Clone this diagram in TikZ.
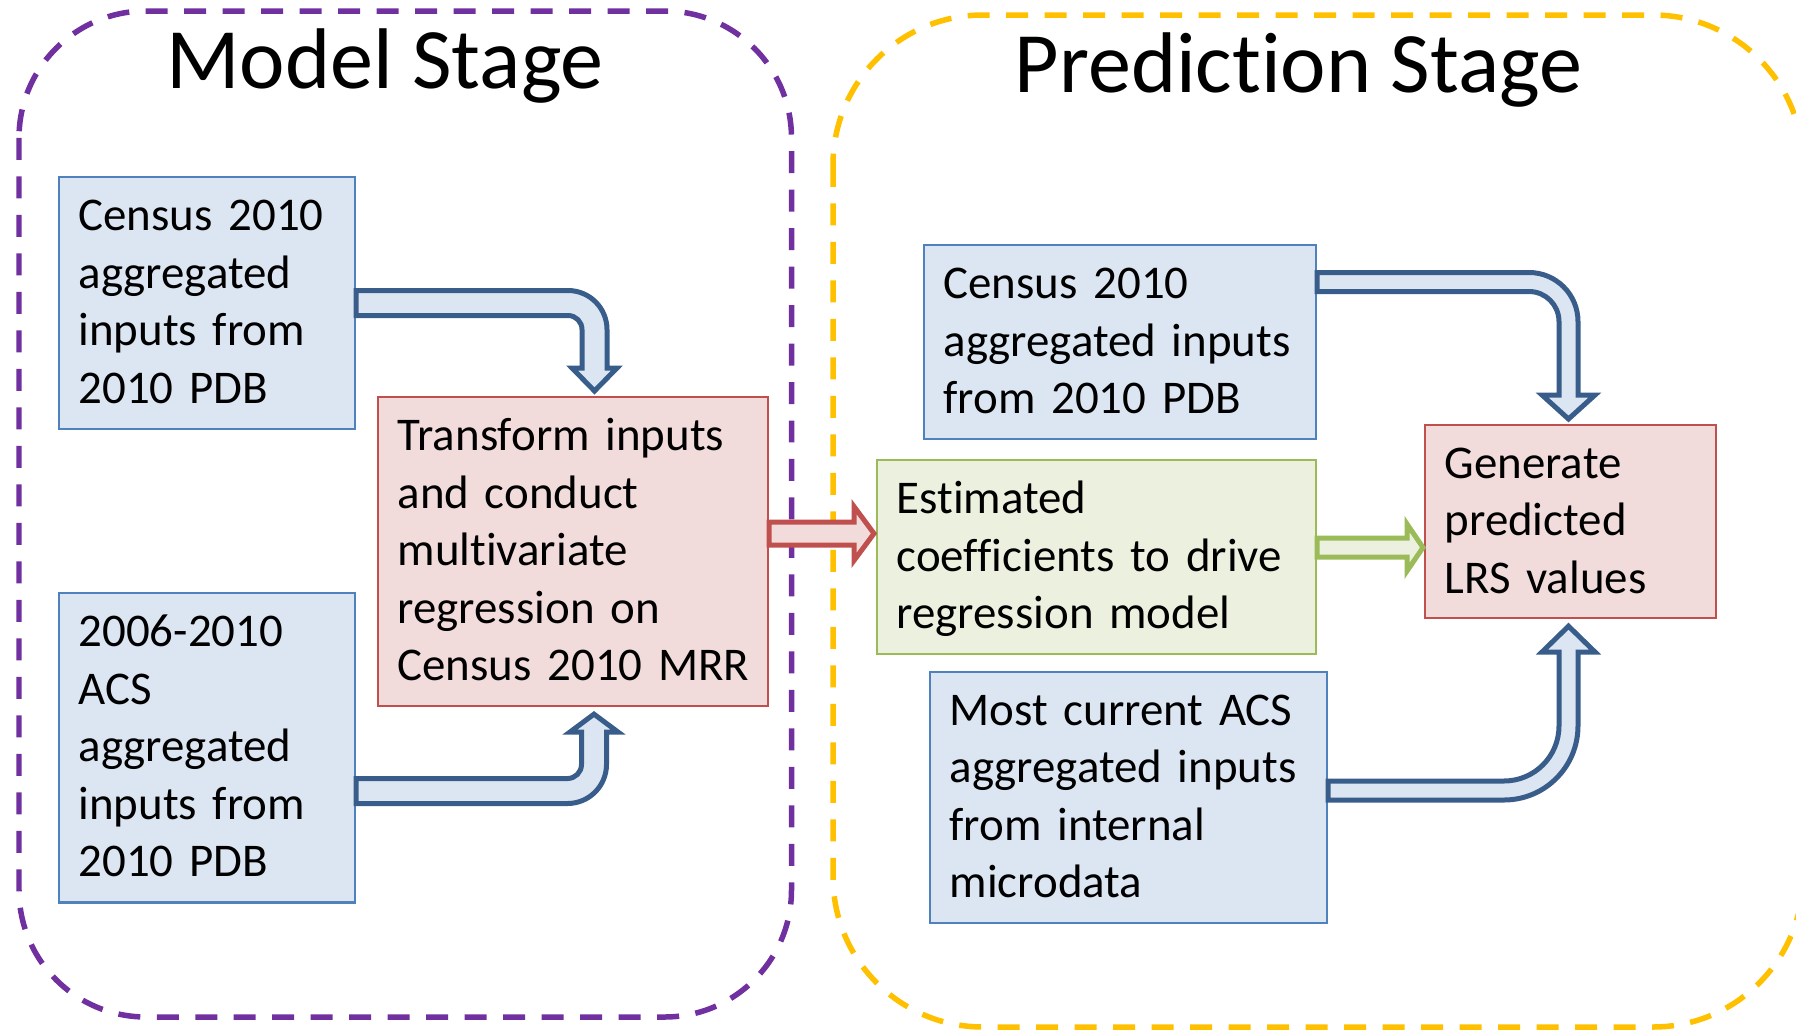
\documentclass[tikz,border=0pt]{standalone}
\usepackage{fontspec}
\setmainfont{Carlito}[Ligatures=NoCommon]
\usetikzlibrary{calc}

\definecolor{boxblue}{HTML}{4F81BD}
\definecolor{fillblue}{HTML}{DCE6F2}
\definecolor{arrowblue}{HTML}{385D8A}
\definecolor{boxred}{HTML}{C0504D}
\definecolor{fillred}{HTML}{F2DCDB}
\definecolor{boxgreen}{HTML}{9BBB59}
\definecolor{fillgreen}{HTML}{EBF1DE}
\definecolor{framepurple}{HTML}{7030A0}
\definecolor{frameyellow}{HTML}{FFC000}

% one unbreakable text line with a fixed strut
\newcommand\bstrut{\rule[-0.29cm]{0pt}{1.14cm}}
\newcommand\keepline[1]{\mbox{\bstrut#1}}

\begin{document}
\begin{tikzpicture}[x=0.02cm, y=-0.02cm,
  bodytext/.style={font=\fontsize{26.7pt}{1.15cm}\selectfont, align=left,
    anchor=north west, inner xsep=0.39cm, inner ysep=0pt, line width=0.044cm},
  bluebox/.style={bodytext, draw=boxblue, fill=fillblue},
  redbox/.style={bodytext, draw=boxred, fill=fillred},
  greenbox/.style={bodytext, draw=boxgreen, fill=fillgreen},
  stagetitle/.style={font=\fontsize{49pt}{60pt}\selectfont, anchor=base, inner sep=0pt},
  stageframe/.style={line width=0.11cm, dash pattern=on 0.44cm off 0.33cm},
  bluearrow/.style={draw=arrowblue, fill=fillblue, line width=0.1cm},
  redarrow/.style={draw=boxred, fill=fillred, line width=0.1cm},
  greenarrow/.style={draw=boxgreen, fill=fillgreen, line width=0.1cm}]

\useasboundingbox (0,0) rectangle (1796,1032);

% stage frames
\draw[stageframe, draw=framepurple, rounded corners=2.54cm] (19,11) rectangle (791.5,1017);
\draw[stageframe, draw=frameyellow, rounded corners=3cm] (833,15) rectangle (1803,1027);

% titles
\node[stagetitle] (mtitle) at (385,88) {Model Stage};
\node[stagetitle] (ptitle) at (1298.5,92) {Prediction Stage};

% model stage boxes
\node[bluebox, minimum width=5.92cm, minimum height=5.04cm, text width=5.14cm] (A) at (58,176)
  {\keepline{Census 2010}\\\keepline{aggregated}\\\keepline{inputs from}\\\keepline{2010 PDB}};
\node[bluebox, minimum width=5.92cm, minimum height=6.19cm, text width=5.14cm] (B) at (58,592)
  {\keepline{2006-2010}\\\keepline{ACS}\\\keepline{aggregated}\\\keepline{inputs from}\\\keepline{2010 PDB}};
\node[redbox, minimum width=7.8cm, minimum height=6.18cm, text width=7.02cm] (C) at (377,396)
  {\keepline{Transform inputs}\\\keepline{and conduct}\\\keepline{multivariate}\\\keepline{regression on}\\\keepline{Census 2010 MRR}};

% prediction stage boxes
\node[bluebox, minimum width=7.84cm, minimum height=3.88cm, text width=7.06cm] (D) at (923,244)
  {\keepline{Census 2010}\\\keepline{aggregated inputs}\\\keepline{from 2010 PDB}};
\node[greenbox, minimum width=8.78cm, minimum height=3.88cm, text width=8.0cm] (E) at (876,459)
  {\keepline{Estimated}\\\keepline{coefficients to drive}\\\keepline{regression model}};
\node[bluebox, minimum width=7.94cm, minimum height=5.02cm, text width=7.16cm] (F) at (929,671)
  {\keepline{Most current ACS}\\\keepline{aggregated inputs}\\\keepline{from internal}\\\keepline{microdata}};
\node[redbox, minimum width=5.82cm, minimum height=3.86cm, text width=5.04cm] (G) at (1424,424)
  {\keepline{Generate}\\\keepline{predicted}\\\keepline{LRS values}};

% bent block arrows
\draw[bluearrow] (A.east |- 0,290.5) -- (568,290.5) arc[start angle=-90, end angle=0, radius=39]
  -- (607,368) -- (617,368) -- ($(C.north -| 594.5,0)+(0,-5)$) -- (572,368) -- (582,368)
  -- (582,329.5) arc[start angle=0, end angle=-90, radius=14] -- (A.east |- 0,315.5) -- cycle;

\draw[bluearrow] (B.east |- 0,778.5) -- (567.5,778.5) arc[start angle=90, end angle=0, radius=14]
  -- (581.5,732) -- (570,732) -- ($(C.south -| 594,0)+(0,7)$) -- (618,732) -- (606.5,732)
  -- (606.5,764.5) arc[start angle=0, end angle=90, radius=39] -- (B.east |- 0,803.5) -- cycle;

\draw[bluearrow] (D.east |- 0,272.5) -- (1529,272.5) arc[start angle=-90, end angle=0, radius=49]
  -- (1578,395) -- (1595,395) -- ($(G.north -| 1568.5,0)+(0,-5)$) -- (1542,395) -- (1559,395)
  -- (1559,321.5) arc[start angle=0, end angle=-90, radius=30] -- (D.east |- 0,291.5) -- cycle;

\draw[bluearrow] (F.east |- 0,781) -- (1504,781) arc[start angle=90, end angle=0, radius=55]
  -- (1559,652) -- (1542,652) -- ($(G.south -| 1568.5,0)+(0,7)$) -- (1595,652) -- (1578,652)
  -- (1578,726) arc[start angle=0, end angle=90, radius=74] -- (F.east |- 0,800) -- cycle;

% straight block arrows
\draw[redarrow] (C.east |- 0,522) -- (854,522) -- (854,506.5)
  -- ($(E.west |- 0,533.5)+(-2,0)$) -- (854,560.5) -- (854,545) -- (C.east |- 0,545) -- cycle;

\draw[greenarrow] (E.east |- 0,538) -- (1407,538) -- (1407,524)
  -- ($(G.west |- 0,547.5)+(-1,0)$) -- (1407,571) -- (1407,557) -- (E.east |- 0,557) -- cycle;

\end{tikzpicture}
\end{document}
